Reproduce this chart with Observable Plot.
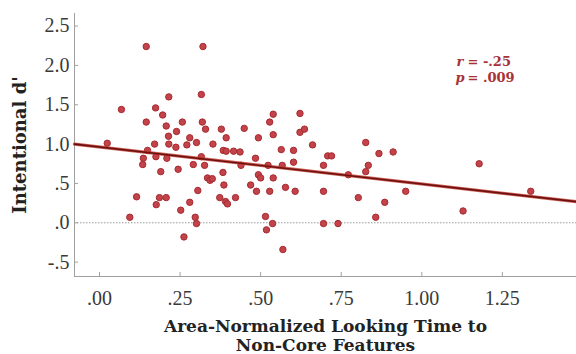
<!DOCTYPE html>
<html>
<head>
<meta charset="utf-8">
<script src="https://cdn.jsdelivr.net/npm/d3@7"></script>
<script src="https://cdn.jsdelivr.net/npm/@observablehq/plot@0.6"></script>
<style>
  html, body { margin: 0; padding: 0; background: #fff; }
  #chart svg { display: block; }
</style>
</head>
<body>
<div id="chart"></div>
<script>
// Area-normalized looking time to non-core features (x) vs intentional d' (y)
const lookingTime = [
  0.024, 0.068, 0.094, 0.115, 0.176, 0.186, 0.207, 0.252, 0.280, 0.297,
  0.301, 0.262, 0.190, 0.244, 0.305, 0.145, 0.145, 0.174, 0.196, 0.215,
  0.207, 0.239, 0.257, 0.214, 0.215, 0.237, 0.171, 0.149, 0.136, 0.134,
  0.175, 0.209, 0.271, 0.280, 0.291, 0.301, 0.316, 0.316, 0.321, 0.319,
  0.329, 0.352, 0.378, 0.393, 0.449, 0.493, 0.528, 0.539, 0.539, 0.622,
  0.622, 0.636, 0.661, 0.384, 0.393, 0.416, 0.436, 0.484, 0.564, 0.602,
  0.602, 0.567, 0.523, 0.439, 0.383, 0.326, 0.695, 0.708, 0.720, 0.772,
  0.826, 0.834, 0.826, 0.867, 0.335, 0.343, 0.350, 0.493, 0.500, 0.539,
  0.911, 1.178, 0.857, 0.885, 0.950, 1.128, 1.338, 0.386, 0.373, 0.391,
  0.397, 0.422, 0.469, 0.487, 0.528, 0.577, 0.607, 0.515, 0.518, 0.537,
  0.569, 0.695, 0.695, 0.740, 0.803
];
const intentionalD = [
  1.01, 1.44, 0.07, 0.33, 0.23, 0.32, 0.32, 0.16, 0.26, 0.07,
  -0.01, -0.18, 0.65, 0.68, 0.41, 2.24, 1.28, 1.46, 1.37, 1.60,
  1.23, 1.16, 1.28, 1.10, 1.00, 0.96, 1.00, 0.92, 0.82, 0.74,
  0.84, 0.82, 0.99, 1.08, 0.74, 1.02, 1.63, 0.84, 2.24, 1.28,
  1.19, 1.00, 1.19, 1.08, 1.20, 1.08, 1.28, 1.38, 1.12, 1.39,
  1.15, 1.19, 0.99, 0.92, 0.91, 0.91, 0.90, 0.82, 0.93, 0.92,
  0.77, 0.73, 0.73, 0.73, 0.64, 0.73, 0.73, 0.85, 0.85, 0.61,
  1.02, 0.73, 0.65, 0.88, 0.57, 0.54, 0.56, 0.61, 0.57, 0.57,
  0.90, 0.75, 0.07, 0.26, 0.40, 0.15, 0.40, 0.48, 0.32, 0.27,
  0.24, 0.32, 0.48, 0.40, 0.40, 0.45, 0.40, 0.08, -0.09, -0.01,
  -0.34, 0.40, -0.01, -0.01, 0.32
];
// Fitted regression line (intercept, slope) as drawn in the figure
const fitIntercept = 0.963;
const fitSlope = -0.47;
const xDomain = [-0.0776, 1.48];
const yDomain = [-0.683, 2.66];
const xTicks = [0, 0.25, 0.5, 0.75, 1.0, 1.25];
const yTicks = [-0.5, 0, 0.5, 1.0, 1.5, 2.0, 2.5];
const statSymbols = ["r", "p"];
const statValues = ["= -.25", "= .009"];
const yTitle = "Intentional d'";
const xTitleLines = ["Area-Normalized Looking Time to", "Non-Core Features"];

const points = lookingTime.map((x, i) => ({x, y: intentionalD[i]}));
const fitLine = xDomain.map(x => ({x, y: fitIntercept + fitSlope * x}));

const stripZero = s => s.replace(/\u2212/g, "-").replace(/^(-?)0\./, "$1.");
const fmtX = d => stripZero(d3.format(".2f")(d));
const fmtY = d => stripZero(d3.format(".1f")(d));

const serif = "'Liberation Serif', 'DejaVu Serif', serif";
const boldSerif = "'DejaVu Serif', 'Liberation Serif', serif";
const axisGray = "#a0a0a0";
const statColor = "#a83236";
const statStyle = {frameAnchor: "top-left", fontFamily: boldSerif, fontWeight: "bold",
  fontSize: 13, fill: statColor, textAnchor: "start", lineAnchor: "middle"};

const plot = Plot.plot({
  width: 576,
  height: 354,
  marginLeft: 74,
  marginRight: 0,
  marginTop: 13,
  marginBottom: 78,
  style: {fontFamily: serif, background: "#fff", overflow: "visible"},
  x: {domain: xDomain, label: null},
  y: {domain: yDomain, label: null},
  marks: [
    Plot.ruleY([0], {stroke: "#9a9a9a", strokeDasharray: "1.5,1.5", strokeWidth: 1}),
    Plot.frame({anchor: "left", stroke: axisGray}),
    Plot.frame({anchor: "bottom", stroke: axisGray}),
    Plot.axisY({ticks: yTicks, tickFormat: fmtY, tickSize: -4, tickPadding: 9, stroke: axisGray,
      fontSize: 20, fill: "#3a3a3a", fontFamily: serif, label: null}),
    Plot.axisX({ticks: xTicks, tickFormat: fmtX, tickSize: -4, tickPadding: 18, stroke: axisGray,
      fontSize: 20, fill: "#3a3a3a", fontFamily: serif, label: null}),
    Plot.dot(points, {x: "x", y: "y", r: 3.2, fill: "#c2444a", stroke: "#a72a30", strokeWidth: 1}),
    Plot.line(fitLine, {x: "x", y: "y", stroke: "#c0392b", strokeWidth: 3.2, strokeOpacity: 0.8}),
    Plot.line(fitLine, {x: "x", y: "y", stroke: "#6e1010", strokeWidth: 1.6}),
    Plot.text([statSymbols[0]], {...statStyle, text: d => d, fontStyle: "italic", dx: 382, dy: 48}),
    Plot.text([statValues[0]], {...statStyle, text: d => d, dx: 393, dy: 48}),
    Plot.text([statSymbols[1]], {...statStyle, text: d => d, fontStyle: "italic", dx: 381, dy: 64}),
    Plot.text([statValues[1]], {...statStyle, text: d => d, dx: 393, dy: 64}),
    Plot.text([yTitle], {frameAnchor: "left", dx: -54, rotate: -90, text: d => d, textAnchor: "middle",
      fontFamily: boldSerif, fontWeight: "bold", fontSize: 18, fill: "#222"}),
    Plot.text([xTitleLines[0]], {frameAnchor: "bottom", dy: 50, text: d => d, lineAnchor: "middle",
      fontFamily: boldSerif, fontWeight: "bold", fontSize: 17, fill: "#222"}),
    Plot.text([xTitleLines[1]], {frameAnchor: "bottom", dy: 69.5, text: d => d, lineAnchor: "middle",
      fontFamily: boldSerif, fontWeight: "bold", fontSize: 17, fill: "#222"})
  ]
});
document.getElementById("chart").appendChild(plot);
</script>
</body>
</html>
